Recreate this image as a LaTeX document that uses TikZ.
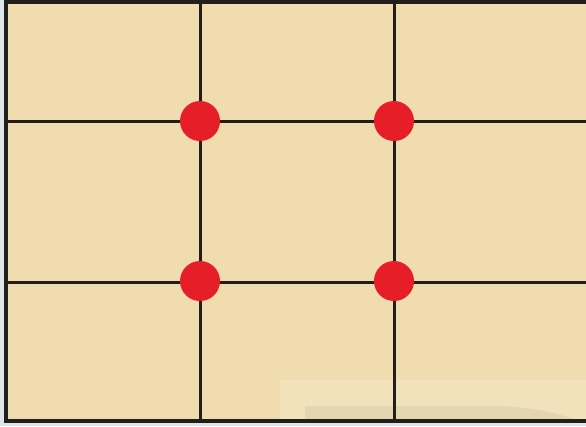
\documentclass[tikz,border=0pt]{standalone}
\definecolor{paper}{HTML}{F0DCAE}
\definecolor{ink}{HTML}{221E1A}
\definecolor{dotred}{HTML}{E61E28}
\definecolor{strip}{HTML}{DCE6EC}
\begin{document}
\begin{tikzpicture}[x=1pt,y=-1pt,
  gridline/.style={draw=ink,line width=3pt},
  frameline/.style={draw=ink,line width=4pt},
  hotspot/.style={circle,fill=dotred,minimum size=40pt,inner sep=0pt}]
\useasboundingbox (0,0) rectangle (586,426);
\fill[strip] (0,0) rectangle (586,426);
\fill[paper] (4,0) rectangle (586,422);
% faint watermark
\fill[white,opacity=0.18] (280,380) rectangle (586,422);
\fill[ink,opacity=0.06] (305,406) -- (500,406) .. controls (540,408) and (565,415) .. (575,420) -- (305,420) -- cycle;
% coordinates
\coordinate (t1) at (200,2);
\coordinate (t2) at (394,2);
\coordinate (b1) at (200,421);
\coordinate (b2) at (394,421);
\coordinate (l1) at (6,121);
\coordinate (l2) at (6,282);
\coordinate (r1) at (586,121);
\coordinate (r2) at (586,282);
\coordinate (tl) at (6,2);
\coordinate (tr) at (586,2);
\coordinate (bl) at (6,421);
\coordinate (br) at (586,421);
% grid
\draw[gridline] (t1) -- (b1);
\draw[gridline] (t2) -- (b2);
\draw[gridline] (l1) -- (r1);
\draw[gridline] (l2) -- (r2);
% frame
\draw[frameline] (tr) -- (tl) -- (bl) -- (br);
% points
\node[hotspot] (p1) at (200,121) {};
\node[hotspot] (p2) at (394,121) {};
\node[hotspot] (p3) at (200,281) {};
\node[hotspot] (p4) at (394,281) {};
\end{tikzpicture}
\end{document}
